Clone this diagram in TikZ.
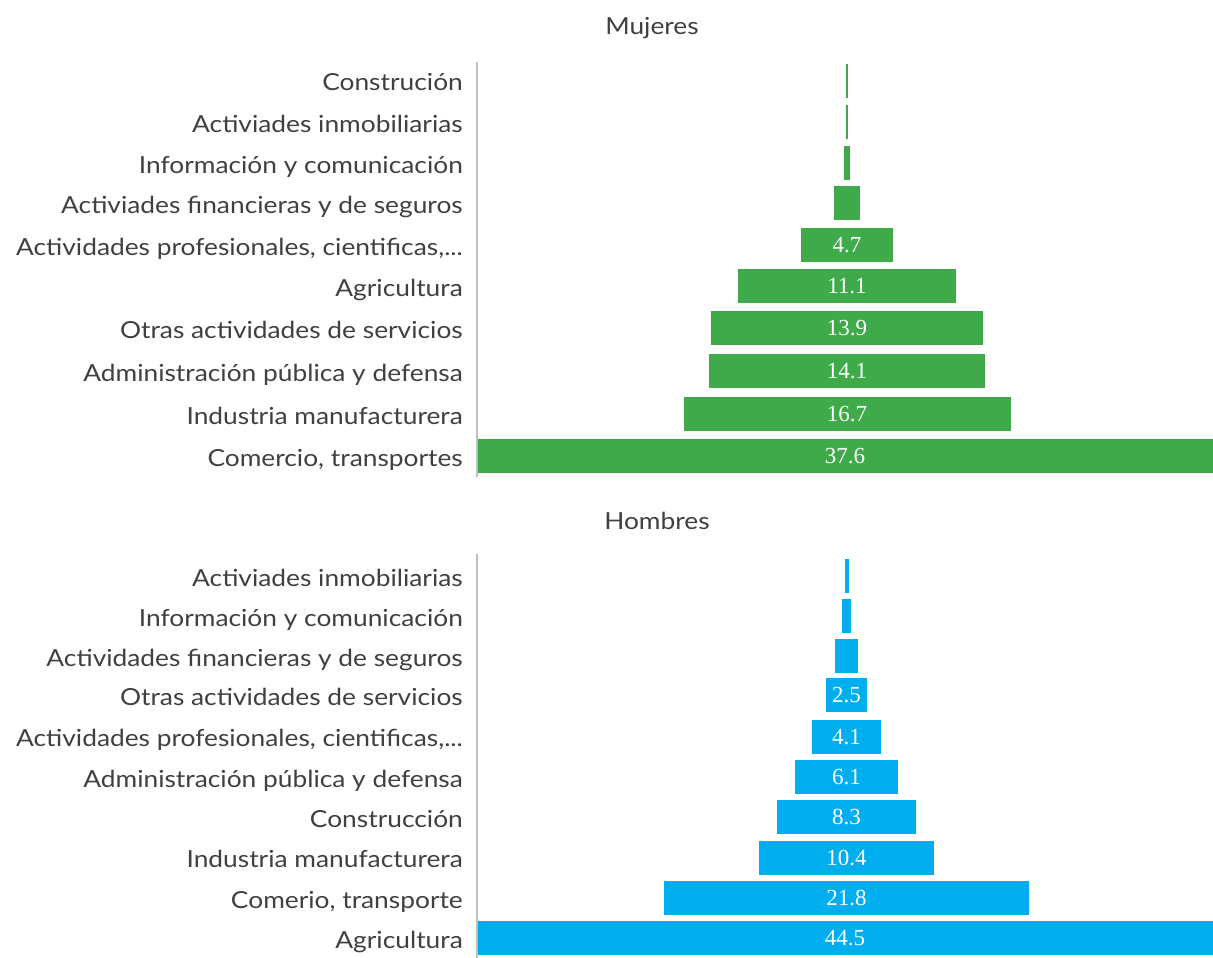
\documentclass[tikz,border=0pt]{standalone}
\usepackage{fontspec}
\setmainfont{Lato}[FakeStretch=1.12]
\newfontfamily\valfont{Liberation Serif}
\definecolor{grn}{HTML}{3FAA4A}
\definecolor{blu}{HTML}{00AEEF}
\definecolor{txt}{HTML}{404040}
\definecolor{axisc}{HTML}{BFBFBF}
\begin{document}
\begin{tikzpicture}[x=1pt,y=-1pt,
  lab/.style={anchor=base east,text=txt,font=\fontsize{23.5}{26}\selectfont,inner sep=0pt},
  ttl/.style={anchor=base,text=txt,font=\fontsize{23.5}{26}\selectfont,inner sep=0pt},
  val/.style={anchor=base,text=white,font=\valfont\fontsize{23}{25}\selectfont,inner sep=0pt},
  axisline/.style={draw=axisc,line width=1.3pt}]
\useasboundingbox (0,0) rectangle (1213,958);
\fill[white] (0,0) rectangle (1213,958);
% ---------- Mujeres ----------
\node[ttl] (t1) at (652,35) {Mujeres};
\def\sc{19.58}
\def\cx{847}
\foreach \name/\lbl/\v/\top/\show [count=\i] in {
  m1/{Construción}/0.15/64/,
  m2/{Activiades inmobiliarias}/0.15/105/,
  m3/{Información y comunicación}/0.3/146/,
  m4/{Activiades financieras y de seguros}/1.33/186/,
  m5/{Actividades profesionales, cientificas,...}/4.7/228/4.7,
  m6/{Agricultura}/11.1/269/11.1,
  m7/{Otras actividades de servicios}/13.9/311/13.9,
  m8/{Administración pública y defensa}/14.1/354/14.1,
  m9/{Industria manufacturera}/16.7/397/16.7}{
  \fill[grn] ({\cx-\v*\sc/2},\top) rectangle ({\cx+\v*\sc/2},\top+34);
  \node[lab] (\name) at (463,\top+27) {\lbl};
  \node[val] (\name v) at (\cx,\top+24.5) {\show};
}
\fill[grn] (477,439) rectangle (1213,473);
\node[lab] (m10) at (463,466) {Comercio, transportes};
\node[val] (m10v) at (845,463.5) {37.6};
\draw[axisline] (477,62) -- (477,477);
% ---------- Hombres ----------
\node[ttl] (t2) at (657,529) {Hombres};
\def\sc{16.74}
\def\cx{846.5}
\foreach \name/\lbl/\v/\top/\show [count=\i] in {
  h1/{Activiades inmobiliarias}/0.24/559/,
  h2/{Información y comunicación}/0.48/599/,
  h3/{Actividades financieras y de seguros}/1.33/639/,
  h4/{Otras actividades de servicios}/2.5/678/2.5,
  h5/{Actividades profesionales, cientificas,...}/4.1/719.5/4.1,
  h6/{Administración pública y defensa}/6.1/760/6.1,
  h7/{Construcción}/8.3/800/8.3,
  h8/{Industria manufacturera}/10.4/840.5/10.4,
  h9/{Comerio, transporte}/21.8/881/21.8}{
  \fill[blu] ({\cx-\v*\sc/2},\top) rectangle ({\cx+\v*\sc/2},\top+34);
  \node[lab] (\name) at (463,\top+27) {\lbl};
  \node[val] (\name v) at (\cx,\top+24.5) {\show};
}
\fill[blu] (477,921) rectangle (1213,955);
\node[lab] (h10) at (463,948) {Agricultura};
\node[val] (h10v) at (845,945.5) {44.5};
\draw[axisline] (477,554) -- (477,958);
\end{tikzpicture}
\end{document}
